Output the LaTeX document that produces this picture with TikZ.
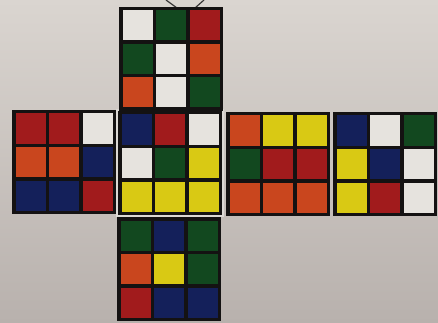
\documentclass[tikz,border=0pt]{standalone}
\definecolor{cR}{HTML}{A11B1C}
\definecolor{cO}{HTML}{C9461E}
\definecolor{cG}{HTML}{12481F}
\definecolor{cB}{HTML}{14205A}
\definecolor{cY}{HTML}{D9C914}
\definecolor{cW}{HTML}{E6E3DE}
\definecolor{cK}{HTML}{141212}
\definecolor{bgTop}{HTML}{DAD5D0}
\definecolor{bgBot}{HTML}{B8B1AD}
\newcommand\cubeface[3]{%
  \fill[cK] (#1,-#2) rectangle ++(104,-104);
  \foreach \c [count=\i from 0] in {#3} {
    \pgfmathtruncatemacro\fcol{mod(\i,3)}
    \pgfmathtruncatemacro\frow{div(\i,3)}
    \fill[\c] ({#1+3.5+\fcol*33.5},{-#2-3.5-\frow*33.5}) rectangle ++(30,-30);
  }%
}
\begin{document}
\begin{tikzpicture}[x=1pt,y=1pt]
\useasboundingbox (0,-323) rectangle (438,0);
\shade[top color=bgTop, bottom color=bgBot] (0,-323) rectangle (438,0);
% strings at top
\coordinate (s1a) at (166,0); \coordinate (s1b) at (177,-8);
\coordinate (s2a) at (204,0); \coordinate (s2b) at (195,-8);
\draw[cK!85, line width=1.2pt] (s1a) -- (s1b);
\draw[cK!85, line width=1.2pt] (s2a) -- (s2b);
% light outline around front face
\draw[cW!90!gray, line width=1.2pt] (117,-110) rectangle (223,-216);
% faces
\cubeface{119}{7}{cW,cG,cR,cG,cW,cO,cO,cW,cG}
\cubeface{12}{110}{cR,cR,cW,cO,cO,cB,cB,cB,cR}
\cubeface{118}{111}{cB,cR,cW,cW,cG,cY,cY,cY,cY}
\cubeface{226}{112}{cO,cY,cY,cG,cR,cR,cO,cO,cO}
\cubeface{333}{112}{cB,cW,cG,cY,cB,cW,cY,cR,cW}
\cubeface{117}{217}{cG,cB,cG,cO,cY,cG,cR,cB,cB}
\end{tikzpicture}
\end{document}
